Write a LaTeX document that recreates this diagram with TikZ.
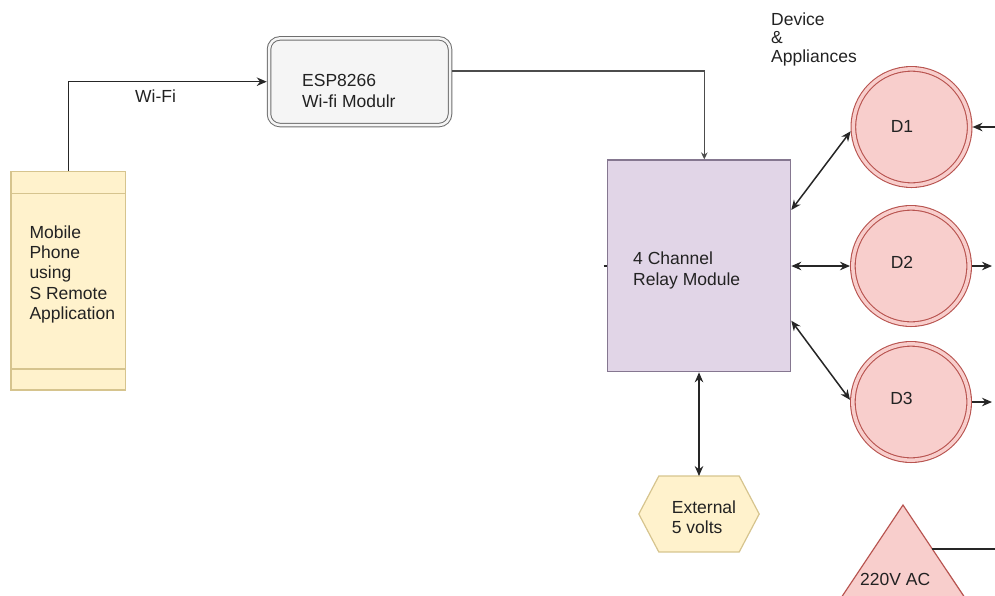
\documentclass[tikz,border=0pt]{standalone}
\usepackage{fontspec}
\setmainfont{Liberation Sans}
\usetikzlibrary{arrows.meta,calc}

\definecolor{ylwfill}{HTML}{FFF2CC}
\definecolor{ylwline}{HTML}{D6C48E}
\definecolor{grayfill}{HTML}{F5F5F5}
\definecolor{grayline}{HTML}{6E6E6E}
\definecolor{purfill}{HTML}{E1D5E7}
\definecolor{purline}{HTML}{857790}
\definecolor{redfill}{HTML}{F8CECC}
\definecolor{redline}{HTML}{B85450}
\definecolor{txt}{HTML}{222222}

\tikzset{
  lbl/.style={font=\fontsize{17.5}{20.3}\selectfont, text=txt, inner sep=0pt,
              align=left, anchor=north west},
  wire/.style={draw=black!85, line width=1.5pt},
  phonebox/.style={draw=ylwline, fill=ylwfill, line width=1.2pt, inner sep=0pt,
                   minimum width=114.7pt, minimum height=218.3pt},
  espbox/.style={draw=grayline, fill=grayfill, double=grayfill, double distance=2.5pt,
                 line width=1pt, rounded corners=11pt, inner sep=0pt, outer sep=2.25pt,
                 minimum width=181pt, minimum height=86.7pt},
  relaybox/.style={draw=purline, fill=purfill, line width=1.2pt, inner sep=0pt,
                   minimum width=183.4pt, minimum height=211.7pt},
  devcircle/.style={circle, draw=redline, fill=redfill, double=redfill,
                    double distance=3.5pt, line width=1.1pt, inner sep=0pt,
                    outer sep=2.85pt, minimum size=116.3pt},
  >={Stealth[length=10pt,width=8.5pt]}
}

\begin{document}
\begin{tikzpicture}[x=1pt, y=-1pt]
  \useasboundingbox (0,0) rectangle (995,595);
  \clip (0,0) rectangle (995,595);

  % mobile phone
  \node[phonebox] (phone) at (68.35,280.85) {};
  \draw[ylwline, line width=1.2pt] (phone.west |- 0,193.3) -- (phone.east |- 0,193.3);
  \draw[ylwline, line width=1.2pt] (phone.west |- 0,369) -- (phone.east |- 0,369);
  \node[lbl] (phonetxt) at (29.3,225.3) {Mobile\\Phone\\using\\S Remote\\Application};

  % ESP8266 module
  \node[espbox] (esp) at (359.5,81.7) {};
  \node[lbl, font=\fontsize{17.5}{21}\selectfont] (esptxt) at (302,74.2) {ESP8266\\Wi-fi Modulr};

  % relay module
  \node[relaybox] (relay) at (699,265.85) {};
  \node[lbl, font=\fontsize{17.5}{21}\selectfont] (relaytxt) at (633,251.5) {4 Channel\\Relay Module};
  \coordinate (stub) at (603.5,266);
  \draw[wire] (stub) -- (relay.west |- stub);

  % devices
  \node[devcircle] (d1) at (911.5,127) {};
  \node[devcircle] (d2) at (911,266) {};
  \node[devcircle] (d3) at (911,402) {};
  \node[font=\fontsize{17.5}{21}\selectfont, text=txt, inner sep=0pt] (d1t) at (902,126.5) {D1};
  \node[font=\fontsize{17.5}{21}\selectfont, text=txt, inner sep=0pt] (d2t) at (902,262.5) {D2};
  \node[font=\fontsize{17.5}{21}\selectfont, text=txt, inner sep=0pt] (d3t) at (901.5,398) {D3};
  \node[lbl, font=\fontsize{17.5}{18.5}\selectfont] (devtxt) at (771,12.5) {Device\\\&\\Appliances};

  % external supply
  \node[inner sep=0pt, minimum width=120pt, minimum height=75.5pt] (ext) at (699,514) {};
  \draw[draw=ylwline, fill=ylwfill, line width=1.2pt]
    (ext.west) -- ([xshift=20pt]ext.north west) -- ([xshift=-20pt]ext.north east)
    -- (ext.east) -- ([xshift=-20pt]ext.south east) -- ([xshift=20pt]ext.south west) -- cycle;
  \node[lbl] (exttxt) at (671.7,500.4) {External\\5 volts};

  % mains supply
  \coordinate (acapex) at (903,505);
  \coordinate (acleft) at (836.3,605);
  \coordinate (acright) at (969.7,605);
  \draw[draw=redline, fill=redfill, line width=1.2pt] (acapex) -- (acright) -- (acleft) -- cycle;
  \node[lbl] (actxt) at (860,573.3) {220V AC};
  \coordinate (acedge) at (932.3,549);
  \coordinate (acend) at (996,549);
  \draw[wire] (acedge) -- (acend);

  % connections
  \draw[wire, ->] (phone.north) |- (esp.west);
  \node[lbl] (wifitxt) at (135,89.4) {Wi-Fi};
  \draw[wire, draw=black!70, ->, >={Stealth[length=7pt,width=6.5pt]}]
    (esp.east |- 0,71) -| ([xshift=5.3pt]relay.north);
  \draw[wire, <->] (relay.east |- 0,210) -- (d1.184);
  \draw[wire, <->] (relay.east |- d2) -- (d2.west);
  \draw[wire, <->] (relay.east |- 0,320.7) -- (d3.178);
  \draw[wire, <->] (relay.south) -- (ext.north);

  \coordinate (r1) at (996,127);
  \coordinate (r2) at (992,266);
  \coordinate (r3) at (992,402);
  \draw[wire, ->] (r1) -- (d1.east);
  \draw[wire, ->] (d2.east) -- (r2);
  \draw[wire, ->] (d3.east) -- (r3);
\end{tikzpicture}
\end{document}
